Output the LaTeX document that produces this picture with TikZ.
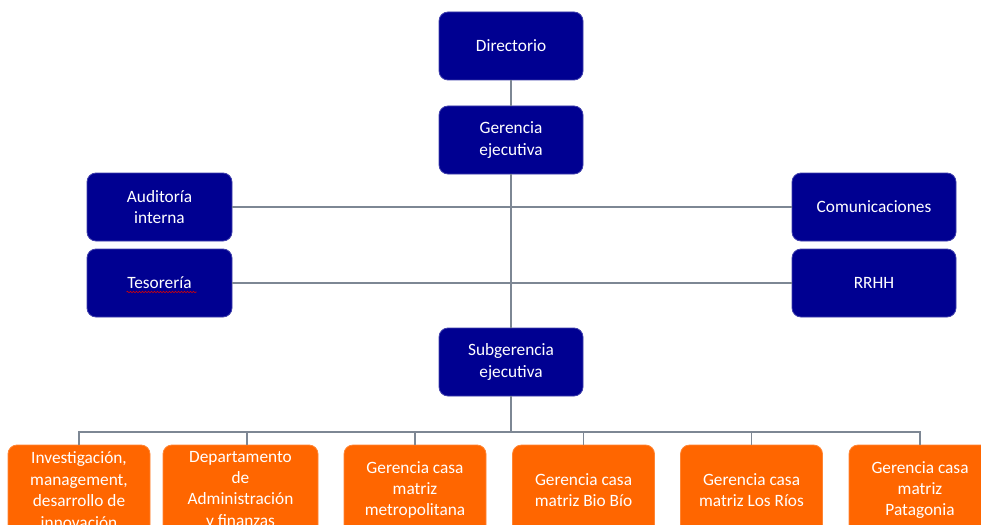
\documentclass[tikz,border=0pt]{standalone}
\usepackage{fontspec}
\setmainfont{Carlito}
\usetikzlibrary{decorations.pathmorphing}
\definecolor{navy}{RGB}{0,0,145}
\definecolor{orng}{RGB}{255,102,0}
\definecolor{linec}{RGB}{125,135,148}
\begin{document}
\begin{tikzpicture}[x=1pt,y=-1pt,
  basebox/.style={rounded corners=9pt, text=white, align=center, inner sep=0pt,
    font=\fontsize{17.3}{21.4}\selectfont},
  navybox/.style={basebox, fill=navy, draw=navy!75!white, line width=0.8pt,
    minimum width=144pt, minimum height=68pt},
  orangebox/.style={basebox, fill=orng, draw=orng!80!white, line width=0.8pt,
    minimum width=142pt, minimum height=90pt},
  conn/.style={draw=linec, line width=1.2pt}]
\clip (0,0) rectangle (981,524);
\fill[white] (0,0) rectangle (981,524);

\node[navybox] (dir) at (511,46) {Directorio};
\node[navybox] (ger) at (511,140) {Gerencia\\ejecutiva};
\node[navybox, minimum width=145pt] (aud) at (159.5,207) {Auditoría\\interna};
\node[navybox, minimum width=145pt] (tes) at (159.5,283) {Tesorería};
\node[navybox, minimum width=164pt] (com) at (874,207) {Comunicaciones};
\node[navybox, minimum width=164pt] (rrhh) at (874,283) {RRHH};
\node[navybox] (sub) at (511,362) {Subgerencia\\ejecutiva};

\node[orangebox] (b1) at (79,490) {Investigación,\\management,\\desarrollo de\\innovación};
\node[orangebox, minimum width=155pt] (b2) at (240.5,490) {Departamento\\de\\Administración\\y finanzas};
\node[orangebox] (b3) at (415,490) {Gerencia casa\\matriz\\metropolitana};
\node[orangebox] (b4) at (583.5,490) {Gerencia casa\\matriz Bio Bío};
\node[orangebox] (b5) at (751.5,490) {Gerencia casa\\matriz Los Ríos};
\node[orangebox] (b6) at (920,490) {Gerencia casa\\matriz\\Patagonia};

\coordinate (bus) at (511,432);
\draw[conn] (dir) -- (ger);
\draw[conn] (ger) -- (sub);
\draw[conn] (aud.east) -- (com.west);
\draw[conn] (tes.east) -- (rrhh.west);
\draw[conn] (sub) -- (bus);
\draw[conn] (b1.north) -- (b1.north |- bus) -- (b6.north |- bus) -- (b6.north);
\draw[conn] ([xshift=6.5pt]b2.north) -- ([xshift=6.5pt]b2.north |- bus);
\draw[conn] (b3.north) -- (b3.north |- bus);
\draw[conn] (b4.north) -- (b4.north |- bus);
\draw[conn] (b5.north) -- (b5.north |- bus);

\draw[red!85!black, line width=0.6pt, decorate,
  decoration={snake, amplitude=0.7pt, segment length=3pt}]
  ([xshift=-33pt,yshift=-9pt]tes.center) -- ([xshift=37pt,yshift=-9pt]tes.center);
\end{tikzpicture}
\end{document}
